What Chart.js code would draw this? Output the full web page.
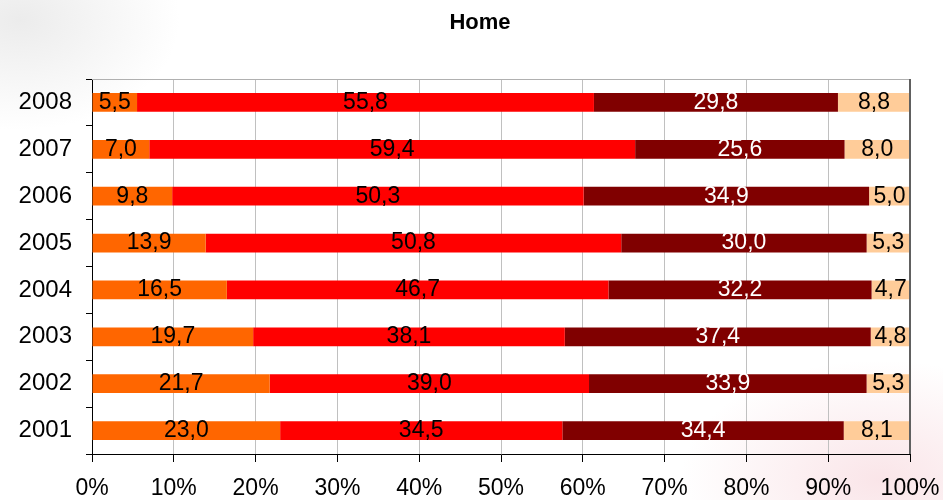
<!DOCTYPE html>
<html>
<head>
<meta charset="utf-8">
<script src="https://cdn.jsdelivr.net/npm/chart.js@4/dist/chart.umd.min.js"></script>
<style>
  html, body { margin: 0; padding: 0; }
  body {
    width: 943px; height: 500px; overflow: hidden;
    background:
      radial-gradient(ellipse 160px 110px at 20px 20px, rgba(200,200,200,0.35), rgba(255,255,255,0) 100%),
      radial-gradient(ellipse 200px 120px at 880px 480px, rgba(240,180,190,0.35), rgba(255,255,255,0) 100%),
      #ffffff;
  }
  #wrap { position: relative; width: 943px; height: 500px; }
</style>
</head>
<body>
<div id="wrap"><canvas id="homeChart"></canvas></div>
<script>
// categories, top to bottom as drawn
const years = ['2008', '2007', '2006', '2005', '2004', '2003', '2002', '2001'];

// series values (percent)
const seriesA = [5.5, 7.0, 9.8, 13.9, 16.5, 19.7, 21.7, 23.0];
const seriesB = [55.8, 59.4, 50.3, 50.8, 46.7, 38.1, 39.0, 34.5];
const seriesC = [29.8, 25.6, 34.9, 30.0, 32.2, 37.4, 33.9, 34.4];
const seriesD = [8.8, 8.0, 5.0, 5.3, 4.7, 4.8, 5.3, 8.1];

const xTicks = [0, 10, 20, 30, 40, 50, 60, 70, 80, 90, 100];

const allSeries = [seriesA, seriesB, seriesC, seriesD];
const fills = ['#FF6600', '#FF0000', '#800000', '#FFCC99'];
const labelColors = ['#000000', '#000000', '#ffffff', '#000000'];

// 100% stacked: scale each row to its total
const totals = years.map((y, i) => allSeries.reduce((s, arr) => s + arr[i], 0));

const datasets = allSeries.map((arr, k) => ({
    label: 'S' + (k + 1),
    data: arr.map((v, i) => v / totals[i] * 100),
    raw: arr,
    backgroundColor: fills[k],
    borderWidth: 0,
    categoryPercentage: 1,
    barPercentage: 0.4
}));

const fmt = v => v.toFixed(1).replace('.', ',');
const FONT = '"Liberation Sans", Arial, sans-serif';

// draws the value labels in the middle of each segment
const valueLabels = {
    id: 'valueLabels',
    afterDatasetsDraw(chart) {
        const ctx = chart.ctx;
        ctx.save();
        ctx.font = '23px ' + FONT;
        ctx.textAlign = 'center';
        ctx.textBaseline = 'middle';
        chart.data.datasets.forEach((ds, k) => {
            const meta = chart.getDatasetMeta(k);
            meta.data.forEach((bar, i) => {
                const cx = (bar.x + bar.base) / 2;
                ctx.fillStyle = labelColors[k];
                ctx.fillText(fmt(ds.raw[i]), cx, bar.y);
            });
        });
        ctx.restore();
    }
};

// title and frame of the plot area: grey top, dark right
const plotFrame = {
    id: 'plotFrame',
    afterDraw(chart) {
        const a = chart.chartArea;
        const ctx = chart.ctx;
        ctx.save();
        ctx.fillStyle = '#000000';
        ctx.font = 'bold 22px ' + FONT;
        ctx.textAlign = 'center';
        ctx.textBaseline = 'middle';
        ctx.fillText('Home', 480, 23);

        ctx.lineWidth = 1;
        ctx.strokeStyle = '#b0b0b0';
        ctx.beginPath();
        ctx.moveTo(a.left, a.top + 0.5);
        ctx.lineTo(a.right, a.top + 0.5);
        ctx.stroke();
        ctx.strokeStyle = '#606060';
        ctx.lineWidth = 2;
        ctx.beginPath();
        ctx.moveTo(a.right, a.top);
        ctx.lineTo(a.right, a.bottom);
        ctx.stroke();
        ctx.restore();
    }
};

const ctx = document.getElementById('homeChart').getContext('2d');
const homeChart = new Chart(ctx, {
    type: 'bar',
    data: {
        labels: years,
        datasets: datasets
    },
    options: {
        indexAxis: 'y',
        responsive: true,
        maintainAspectRatio: false,
        animation: false,
        layout: { padding: { left: 0, right: 33, top: 79, bottom: 0 } },
        plugins: {
            legend: { display: false },
            tooltip: { enabled: false },
            title: { display: false }
        },
        scales: {
            x: {
                stacked: true,
                min: 0,
                max: 100,
                afterBuildTicks: axis => { axis.ticks = xTicks.map(v => ({ value: v })); },
                afterFit: axis => {
                    axis.height = 46;
                    axis.paddingLeft = 0;
                    axis.paddingRight = 0;
                },
                ticks: {
                    color: '#000000',
                    padding: 13,
                    maxRotation: 0,
                    font: { family: FONT, size: 23 },
                    callback: v => v + '%'
                },
                grid: {
                    color: '#c0c0c0',
                    tickColor: '#000000',
                    tickLength: 8
                },
                border: { color: '#000000', width: 1 }
            },
            y: {
                stacked: true,
                afterFit: axis => {
                    axis.width = 92;
                    axis.paddingTop = 0;
                    axis.paddingBottom = 0;
                },
                ticks: {
                    color: '#000000',
                    padding: 14,
                    font: { family: FONT, size: 24 }
                },
                grid: {
                    offset: true,
                    drawOnChartArea: false,
                    tickColor: '#000000',
                    tickLength: 6
                },
                border: { color: '#000000', width: 1 }
            }
        }
    },
    plugins: [valueLabels, plotFrame]
});
</script>
</body>
</html>
